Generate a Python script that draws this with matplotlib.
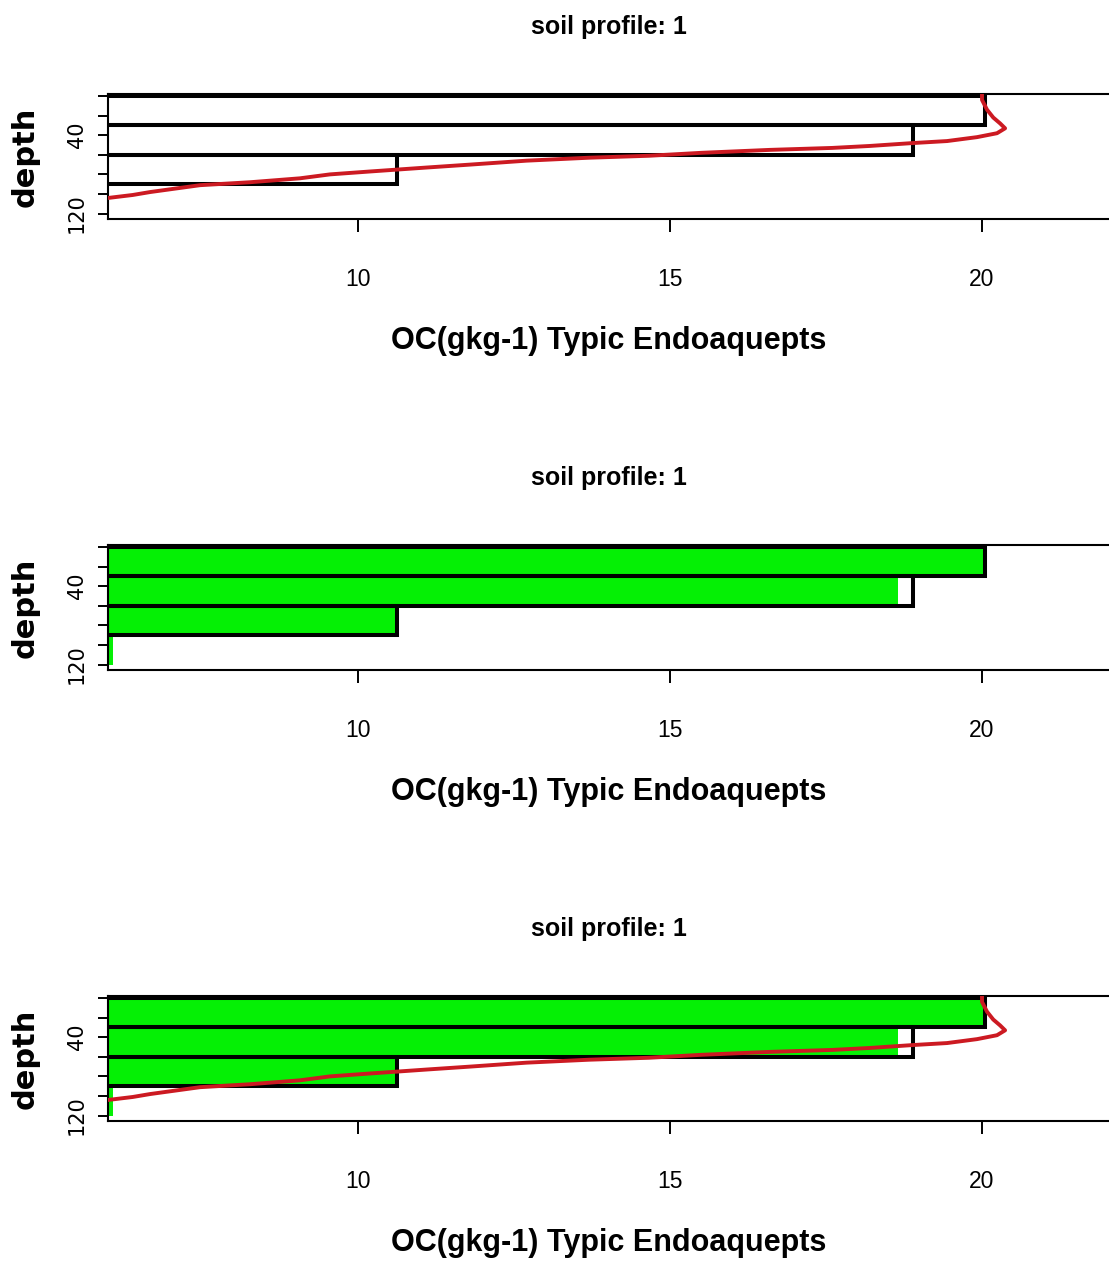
import matplotlib
matplotlib.use("Agg")
import matplotlib.pyplot as plt
from matplotlib import font_manager

# ---------------- data ----------------
layer_top = [0, 30, 60, 90]
layer_bottom = [30, 60, 90, 120]
oc_outline = [20.05, 18.9, 10.62, 5.95]
oc_fill = [20.05, 18.65, 10.62, 6.07]

curve_depth = [0, 4, 14, 22, 28, 33, 38, 42, 46, 48, 51, 53, 55, 58, 61, 63, 66,
               70, 73, 77, 80, 84, 88, 91, 98, 101, 104, 108]
curve_oc = [20.0, 20.0, 20.08, 20.18, 20.29, 20.37, 20.24, 19.92, 19.44, 18.9,
            18.2, 17.6, 16.6, 15.5, 14.66, 13.7, 12.7, 11.8, 11.1, 10.2, 9.55,
            9.07, 8.27, 7.47, 6.67, 6.39, 6.0, 5.6]

x_ticks = [10, 15, 20]
y_ticks = [0, 20, 40, 60, 80, 100, 120]
y_ticklabels = ["", "", "40", "", "", "", "120"]
title_text = "soil profile: 1"
xlabel_text = "OC(gkg-1) Typic Endoaquepts"
ylabel_text = "depth"

# ---------------- fonts ----------------
names = {f.name for f in font_manager.fontManager.ttflist}
narrow_ok = "Liberation Sans Narrow" in names
narrow = ["Liberation Sans Narrow"] if narrow_ok else ["Liberation Sans", "DejaVu Sans"]
sz_xlabel = 26 if narrow_ok else 22
sz_title = 20 if narrow_ok else 18
sz_tick = 18 if narrow_ok else 16.5

W, H = 1109, 1270
fig = plt.figure(figsize=(W / 100, H / 100), dpi=100, facecolor="white")

GREEN = "#05f005"
RED = "#cc1a22"

offsets = [0, 451, 902]
panels = [("outline", "curve"), ("fill", "outline"), ("fill", "outline", "curve")]

for off, parts in zip(offsets, panels):
    top_px = 94 + off
    bot_px = 219 + off
    left_px = 108
    ax = fig.add_axes([left_px / W, 1 - bot_px / H, (W - left_px) / W, (bot_px - top_px) / H])
    heights = [b - t for t, b in zip(layer_top, layer_bottom)]
    if "fill" in parts:
        ax.barh(layer_top, oc_fill, height=heights, left=0, align="edge",
                color=GREEN, edgecolor="none", linewidth=0, zorder=2)
    if "outline" in parts:
        ax.barh(layer_top, oc_outline, height=heights, left=0, align="edge",
                fill=False, edgecolor="black", linewidth=2.9, zorder=3)
    if "curve" in parts:
        ax.plot(curve_oc, curve_depth, color=RED, linewidth=2.8, zorder=4,
                solid_joinstyle="round")

    ax.set_xlim(5.994, 22.035)
    ax.set_ylim(125.5, -2)
    ax.set_xticks(x_ticks)
    ax.set_xticklabels([str(t) for t in x_ticks], fontfamily=narrow, fontsize=sz_tick)
    ax.set_yticks(y_ticks)
    ax.set_yticklabels(y_ticklabels, fontfamily="DejaVu Sans", fontsize=15,
                       rotation=90, va="center")
    ax.tick_params(axis="x", length=9.4, width=1.4, pad=26, direction="out")
    ax.tick_params(axis="y", length=7.2, width=1.4, pad=8, direction="out")
    for side in ("left", "top", "bottom"):
        ax.spines[side].set_linewidth(1.5)
    ax.spines["right"].set_visible(False)

    ax.set_xlabel(xlabel_text, fontfamily=narrow, fontweight="bold", fontsize=sz_xlabel)
    ax.xaxis.set_label_coords(0.5, -122 / 125)
    ax.xaxis.label.set_va("center")

    ax.set_ylabel(ylabel_text, fontfamily="DejaVu Sans", fontweight="bold", fontsize=22)
    ax.yaxis.set_label_coords(-83 / (W - left_px), 0.5)
    ax.yaxis.label.set_va("center")

    ax.set_title(title_text, fontfamily=narrow, fontweight="bold", fontsize=sz_title,
                 y=1 + 67 / 125, va="center", pad=0)

fig.savefig("out.png", dpi=100, facecolor="white")
